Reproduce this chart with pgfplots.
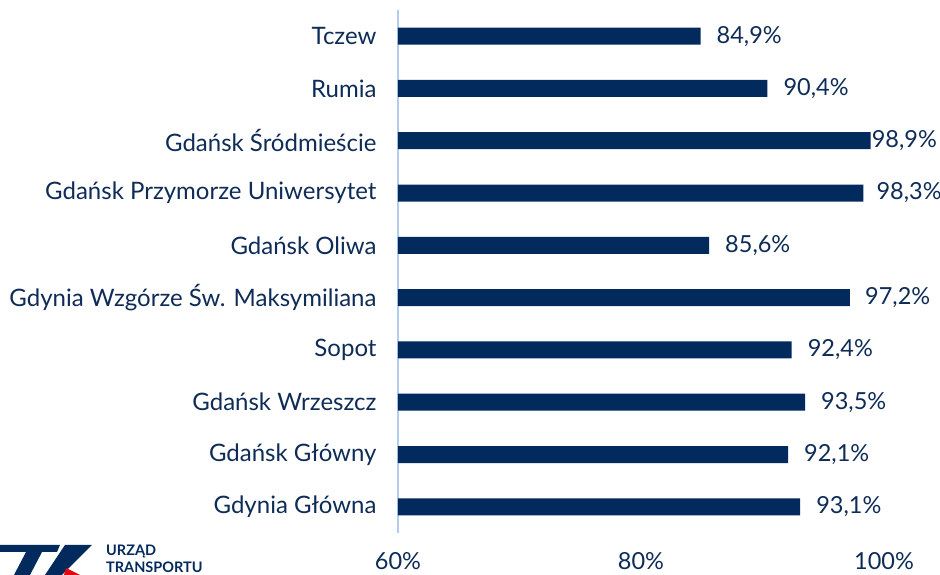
\documentclass[border=0pt]{standalone}
\usepackage{fontspec}
\setmainfont{Lato}
\usepackage{pgfplots}
\usepackage{pgfplotstable}
\pgfplotsset{compat=1.18}
\definecolor{barc}{HTML}{032A5C}
\definecolor{txtc}{HTML}{0E2C57}
\definecolor{axc}{HTML}{B4CDEB}
\definecolor{logored}{HTML}{E30613}
\pgfplotstableread{
y val rel lab shift
9 84.9 24.9 {84,9\%} 16
8 90.4 30.4 {90,4\%} 16
7 98.9 38.9 {98,9\%} 1
6 98.3 38.3 {98,3\%} 13
5 85.6 25.6 {85,6\%} 16
4 97.2 37.2 {97,2\%} 15
3 92.4 32.4 {92,4\%} 16
2 93.5 33.5 {93,5\%} 16
1 92.1 32.1 {92,1\%} 16
0 93.1 33.1 {93,1\%} 16
}\datatable
\begin{document}
\begin{tikzpicture}[x=1pt,y=1pt]
\path[use as bounding box] (0,0) rectangle (940,575);
\begin{axis}[
  at={(398pt,42pt)}, anchor=south west,
  scale only axis, width=486pt, height=523pt,
  xmin=0, xmax=40, ymin=-0.5, ymax=9.5,
  clip=false,
  axis line style={draw=none},
  xtick={0,20,40}, xticklabels={60\%,80\%,100\%},
  ytick={0,...,9},
  yticklabels={Gdynia Główna,Gdańsk Główny,Gdańsk Wrzeszcz,Sopot,Gdynia Wzgórze Św. Maksymiliana,Gdańsk Oliwa,Gdańsk Przymorze Uniwersytet,Gdańsk Śródmieście,Rumia,Tczew},
  major tick length=0pt,
  tick style={draw=none},
  tick label style={text=txtc},
  yticklabel style={font=\fontsize{24}{27}\selectfont, xshift=-18pt},
  xticklabel style={font=\fontsize{23.5}{26}\selectfont, yshift=-16pt},
]
\draw[axc, line width=1.3pt] (axis cs:0,-0.5) -- (axis cs:0,9.5);
\addplot[xbar, bar width=17pt, fill=barc, draw=none,
  point meta=explicit symbolic,
  visualization depends on={\thisrow{shift} \as \myshift},
  nodes near coords,
  every node near coord/.append style={anchor=west, inner sep=0pt, xshift=\myshift, font=\fontsize{23.5}{26}\selectfont, text=txtc},
] table[x=rel, y=y, meta=lab] {\datatable};
\end{axis}
% logo (decorative)
\fill[barc] (0,30) -- (60,30) -- (57,23) -- (0,23) -- cycle;
\fill[barc] (26,23) -- (42,23) -- (30,0) -- (14,0) -- cycle;
\fill[barc] (65,30) -- (92,30) -- (62,0) -- (45,0) -- cycle;
\fill[logored] (66,7) -- (80,0) -- (64,0) -- cycle;
\node[anchor=base west, inner sep=0pt, text=barc, font=\bfseries\fontsize{14.5}{16}\selectfont] at (106,19) {URZĄD};
\node[anchor=base west, inner sep=0pt, text=barc, font=\bfseries\fontsize{14.5}{16}\selectfont] at (106,2) {TRANSPORTU};
\end{tikzpicture}
\end{document}
